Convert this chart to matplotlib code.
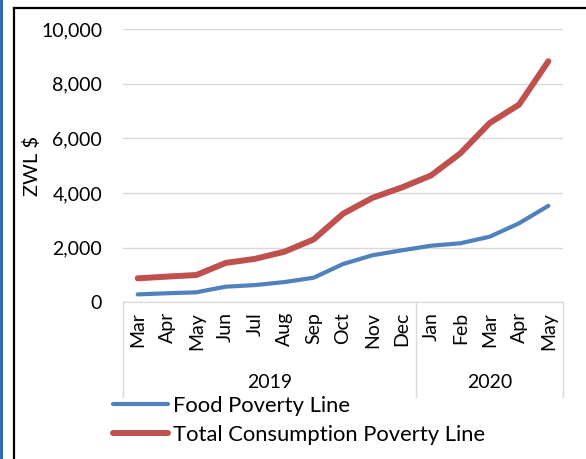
import matplotlib.pyplot as plt
from matplotlib.patches import Rectangle
from matplotlib.lines import Line2D

plt.rcParams['font.family'] = ['Lato', 'DejaVu Sans']

months = ['Mar', 'Apr', 'May', 'Jun', 'Jul', 'Aug', 'Sep', 'Oct', 'Nov', 'Dec',
          'Jan', 'Feb', 'Mar', 'Apr', 'May']
years = ['2019', '2020']
year_counts = [10, 5]
food = [290, 330, 366, 570, 630, 740, 900, 1400, 1720, 1900,
        2070, 2160, 2400, 2890, 3530]
total = [877, 940, 998, 1440, 1590, 1850, 2300, 3240, 3820, 4200,
         4640, 5450, 6560, 7230, 8820]

blue = '#4F81BD'
red = '#C0504D'
grid = '#D9D9D9'

W, H = 586, 459
fig = plt.figure(figsize=(W / 100, H / 100), dpi=100)

# document decorations: blue strip on the left, black chart frame
fig.patches.append(Rectangle((0, 0), 3 / W, 1, transform=fig.transFigure,
                             facecolor='#2F6AAF', edgecolor='none'))
fig.lines.append(Line2D([14 / W, 14 / W], [0, 1 - 7.5 / H], transform=fig.transFigure,
                        color='black', lw=1.6))
fig.lines.append(Line2D([14 / W, 1], [1 - 7.5 / H, 1 - 7.5 / H], transform=fig.transFigure,
                        color='black', lw=1.6))

left, right, top, bottom = 123, 563, 29, 302.3
ax = fig.add_axes([left / W, 1 - bottom / H, (right - left) / W, (bottom - top) / H])

x = range(len(months))
ax.plot(x, food, color=blue, lw=3.0, solid_capstyle='round', zorder=3,
        label='Food Poverty Line')
ax.plot(x, total, color=red, lw=4.3, solid_capstyle='round', zorder=3,
        label='Total Consumption Poverty Line')

ax.set_xlim(-0.5, len(months) - 0.5)
ax.set_ylim(0, 10000)
ax.set_yticks(range(0, 10001, 2000))
ax.set_yticklabels([f'{v:,}' for v in range(0, 10001, 2000)])
ax.yaxis.grid(True, color=grid, lw=1.0)
ax.set_axisbelow(True)
ax.tick_params(axis='y', length=0, pad=15, labelsize=14)
ax.set_ylabel('ZWL $', fontsize=14.5)
ax.yaxis.set_label_coords((41 - left) / (right - left), 0.5)

ax.set_xticks(list(x))
ax.set_xticklabels(months, rotation=90, fontsize=14)
ax.tick_params(axis='x', length=0, pad=7)

for s in ['left', 'top', 'right']:
    ax.spines[s].set_visible(False)
ax.spines['bottom'].set_color(grid)

# multi-level category axis
trans = ax.get_xaxis_transform()
line_bottom = (bottom - 397) / (bottom - top)
edges = [-0.5]
for c in year_counts:
    edges.append(edges[-1] + c)
for e in edges:
    ax.plot([e, e], [0, line_bottom], transform=trans, color=grid, lw=1.0, clip_on=False)
year_y = (bottom - 383) / (bottom - top)
for i, yr in enumerate(years):
    ax.text((edges[i] + edges[i + 1]) / 2, year_y, yr, transform=trans,
            ha='center', va='center', fontsize=14)

fig.legend(loc='upper left', bbox_to_anchor=(113 / W, 1 - 396 / H),
           frameon=False, fontsize=15.8, handlelength=2.5, handletextpad=0.25,
           labelspacing=0.4, borderpad=0, borderaxespad=0)

fig.savefig('out.png', dpi=100)
